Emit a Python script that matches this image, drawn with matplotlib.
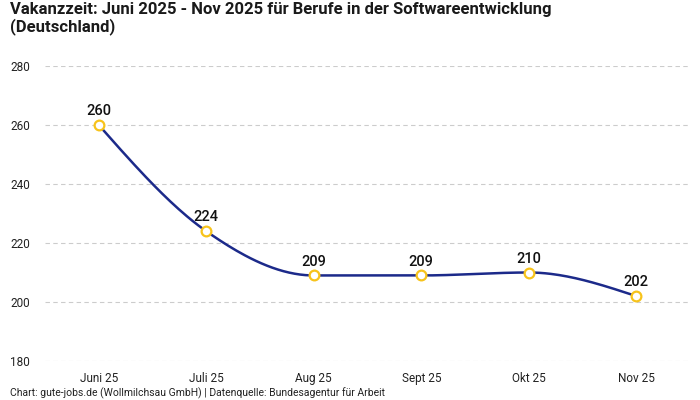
import numpy as np
import matplotlib
matplotlib.use("Agg")
import matplotlib.pyplot as plt

categories = ["Juni 25", "Juli 25", "Aug 25", "Sept 25", "Okt 25", "Nov 25"]
values = [260, 224, 209, 209, 210, 202]
y_ticks = [180, 200, 220, 240, 260, 280]

plt.rcParams['font.family'] = ['Roboto', 'DejaVu Sans']


def monotone_x(x, y, n=40):
    x = np.asarray(x, float)
    y = np.asarray(y, float)
    h = np.diff(x)
    s = np.diff(y) / h
    m = np.zeros_like(y)
    for i in range(1, len(y) - 1):
        s0, s1 = s[i - 1], s[i]
        h0, h1 = h[i - 1], h[i]
        p = (s0 * h1 + s1 * h0) / (h0 + h1)
        m[i] = (np.sign(s0) + np.sign(s1)) * min(abs(s0), abs(s1), 0.5 * abs(p))
    m[0] = (3 * s[0] - m[1]) / 2
    m[-1] = (3 * s[-1] - m[-2]) / 2
    xs, ys = [], []
    for i in range(len(x) - 1):
        t = np.linspace(0, 1, n)
        hh = h[i]
        h00 = 2 * t**3 - 3 * t**2 + 1
        h10 = t**3 - 2 * t**2 + t
        h01 = -2 * t**3 + 3 * t**2
        h11 = t**3 - t**2
        xs.append(x[i] + t * hh)
        ys.append(h00 * y[i] + h10 * hh * m[i] + h01 * y[i + 1] + h11 * hh * m[i + 1])
    return np.concatenate(xs), np.concatenate(ys)


fig = plt.figure(figsize=(7, 4), dpi=100)
ax = fig.add_axes([45 / 700, 1 - 361 / 400, 645 / 700, (361 - 66) / 400])

xpos = np.arange(len(categories))
cx, cy = monotone_x(xpos, values)
ax.plot(cx, cy, color="#1c2a8a", lw=1.8, zorder=3)
ax.plot(xpos, values, "o", ms=7, mfc="white", mec="#f7c31b", mew=1.6, zorder=4)
for xi, v in zip(xpos, values):
    ax.annotate(str(v), (xi, v), xytext=(0, 5), textcoords="offset points",
                ha="center", va="bottom", fontsize=10.5, fontweight="medium",
                color="#111111")

ax.set_xlim(-0.5, len(categories) - 0.5)
ax.set_ylim(180, 280)
ax.set_yticks(y_ticks)
ax.set_xticks(xpos)
ax.set_xticklabels(categories)
ax.grid(axis="y", color="#cccccc", ls=(0, (4, 3)), lw=0.8)
ax.set_axisbelow(True)
for sp in ax.spines.values():
    sp.set_visible(False)
ax.tick_params(axis="both", length=0, labelsize=8.5, colors="#222222")
ax.tick_params(axis="y", pad=25)
for lbl in ax.get_yticklabels():
    lbl.set_ha("left")
ax.tick_params(axis="x", pad=8)

fig.text(10 / 700, 1 - 2 / 400,
         "Vakanzzeit: Juni 2025 - Nov 2025 für Berufe in der Softwareentwicklung\n(Deutschland)",
         ha="left", va="top", fontsize=12, fontweight="bold", color="#1a1a1a",
         linespacing=1.1)
fig.text(10 / 700, 1 - 393 / 400,
         "Chart: gute-jobs.de (Wollmilchsau GmbH) | Datenquelle: Bundesagentur für Arbeit",
         ha="left", va="center", fontsize=7.5, color="#222222")

fig.savefig("out.png", dpi=100)
